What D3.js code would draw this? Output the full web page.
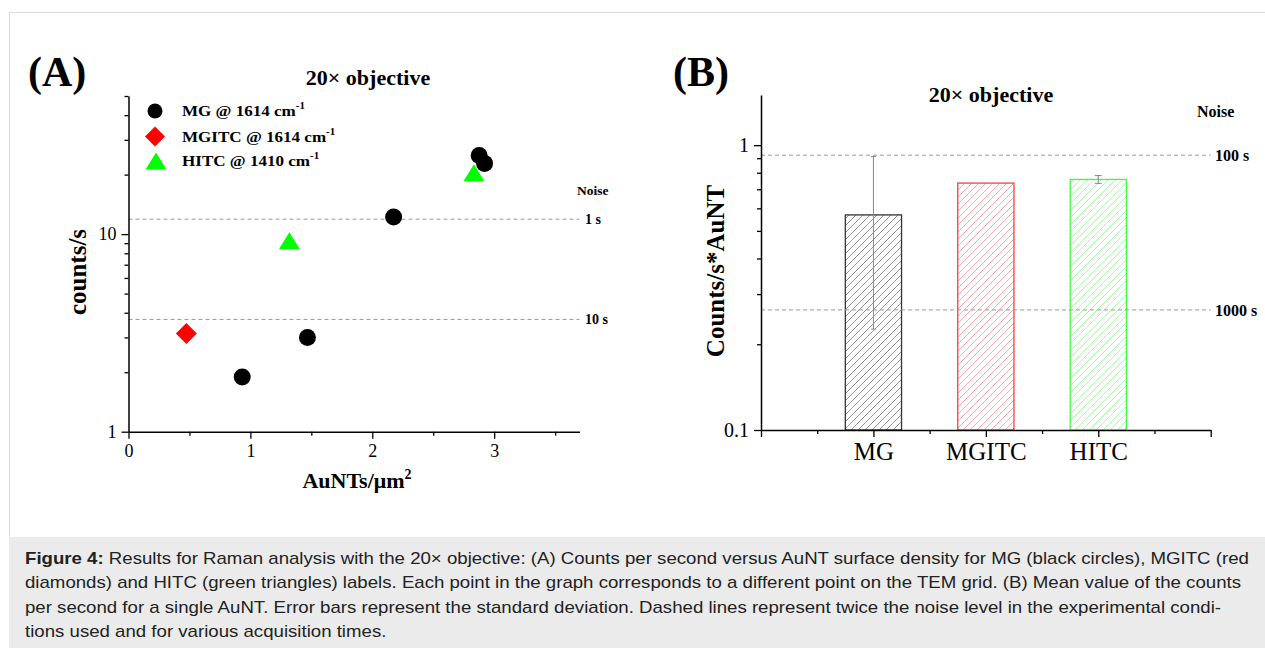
<!DOCTYPE html>
<html><head><meta charset="utf-8">
<script src="https://cdn.jsdelivr.net/npm/d3@7"></script>
<style>body{margin:0;background:#fff}svg{display:block}</style>
</head><body><svg id="c" width="1265" height="648"></svg>
<script>
// ---- Panel A data ----
const mgX = [0.933, 1.468, 2.175, 2.877, 2.921];
const mgY = [1.89, 3.0, 12.2, 25.0, 22.8];
const mgitcX = [0.475];
const mgitcY = [3.14];
const hitcX = [1.32, 2.834];
const hitcY = [9.19, 20.3];
const noiseA = [11.9, 3.70];
const noiseALabels = ["1 s", "10 s"];
const xTicksA = [0, 1, 2, 3];
const xMinorA = [0.5, 1.5, 2.5, 3.5];
const yTicksA = [1, 10];
const yMinorA = [2,3,4,5,6,7,8,9,20,30,40,50];
const legendA = ["MG @ 1614 cm", "MGITC @ 1614 cm", "HITC @ 1410 cm"];
const legendSup = ["-1", "-1", "-1"];

// ---- Panel B data ----
const categories = ["MG", "MGITC", "HITC"];
const catPos = [2, 4, 6];
const means = [0.569, 0.736, 0.758];
const sds = [0.343, 0, 0.024];
const noiseB = [0.922, 0.264];
const noiseBLabels = ["100 s", "1000 s"];
const yTicksB = [0.1, 1];
const yMinorB = [0.2,0.3,0.4,0.5,0.6,0.7,0.8,0.9];
const xMajorB = [0, 2, 4, 6, 8];
const xMinorB = [1, 3, 5, 7];

const caption = [
  " Results for Raman analysis with the 20× objective: (A) Counts per second versus AuNT surface density for MG (black circles), MGITC (red",
  "diamonds) and HITC (green triangles) labels. Each point in the graph corresponds to a different point on the TEM grid. (B) Mean value of the counts",
  "per second for a single AuNT. Error bars represent the standard deviation. Dashed lines represent twice the noise level in the experimental condi-",
  "tions used and for various acquisition times."
];

const svg = d3.select("#c");
const SERIF = "'Liberation Serif','Times New Roman',serif";
const SANS = "'Liberation Sans',Arial,sans-serif";

// frame
svg.append("rect").attr("x",9).attr("y",537).attr("width",1256).attr("height",111).attr("fill","#ebebeb");
svg.append("line").attr("x1",9).attr("x2",1265).attr("y1",12.5).attr("y2",12.5).attr("stroke","#dcdcdc");
svg.append("line").attr("x1",9.5).attr("x2",9.5).attr("y1",12).attr("y2",537).attr("stroke","#dcdcdc");

// caption
const cap = svg.append("text").attr("transform","translate(25,0) scale(1.165,1)")
  .attr("font-family",SANS).attr("font-size",16).attr("fill","#222");
caption.forEach((t,i)=>{
  const tx = cap.append("tspan").attr("x",0).attr("y",564 + i*24.5);
  if(i===0){ tx.append("tspan").attr("font-weight","bold").text("Figure 4:"); tx.append("tspan").text(t); }
  else tx.text(t);
});

// ===== Panel A =====
const xA = d3.scaleLinear().domain([0,3.7]).range([128.5,579.5]);
const yA = d3.scaleLog().domain([1,50]).range([431.7,96]);

function styleAxis(g, fs){
  g.selectAll("path.domain").attr("stroke","#000").attr("stroke-width",1.5);
  g.selectAll(".tick line").attr("stroke","#000").attr("stroke-width",1.3);
  g.selectAll(".tick text").attr("font-family",SERIF).attr("font-size",fs).attr("fill","#000");
  g.attr("font-family",null).attr("font-size",null);
}

// dashed noise lines
const gA = svg.append("g");
gA.selectAll("line.noise").data(noiseA).join("line")
  .attr("x1",xA(0)).attr("x2",xA(3.7)).attr("y1",d=>yA(d)).attr("y2",d=>yA(d))
  .attr("stroke","#999").attr("stroke-dasharray","4,3");
gA.selectAll("text.nl").data(noiseA).join("text")
  .attr("x",585).attr("y",d=>yA(d)+5).attr("font-family",SERIF).attr("font-weight","bold").attr("font-size",14)
  .text((d,i)=>noiseALabels[i]);
gA.append("text").attr("x",577).attr("y",195).attr("font-family",SERIF).attr("font-weight","bold").attr("font-size",13.5).text("Noise");

// axes A
gA.append("g").attr("transform",`translate(${xA(0)},0)`)
  .call(d3.axisLeft(yA).tickValues(yMinorA).tickSize(4).tickFormat("").tickSizeOuter(0))
  .call(g=>{g.select(".domain").remove(); styleAxis(g,18);});
gA.append("g").attr("transform",`translate(${xA(0)},0)`)
  .call(d3.axisLeft(yA).tickValues(yTicksA).tickSize(7).tickPadding(5).tickFormat(d3.format("d")).tickSizeOuter(0))
  .call(g=>styleAxis(g,18));
gA.append("g").attr("transform",`translate(0,${yA(1)})`)
  .call(d3.axisBottom(xA).tickValues(xMinorA).tickSize(4).tickFormat("").tickSizeOuter(0))
  .call(g=>{g.select(".domain").remove(); styleAxis(g,18);});
gA.append("g").attr("transform",`translate(0,${yA(1)})`)
  .call(d3.axisBottom(xA).tickValues(xTicksA).tickSize(7).tickPadding(6).tickFormat(d3.format("d")).tickSizeOuter(0))
  .call(g=>styleAxis(g,18));

// labels A
svg.append("text").attr("x",28).attr("y",86).attr("font-family",SERIF).attr("font-weight","bold").attr("font-size",42).text("(A)");
svg.append("text").attr("x",368).attr("y",85).attr("text-anchor","middle").attr("font-family",SERIF).attr("font-weight","bold").attr("font-size",22).text("20× objective");
svg.append("text").attr("transform","translate(86,272) rotate(-90)").attr("text-anchor","middle")
  .attr("font-family",SERIF).attr("font-weight","bold").attr("font-size",25).text("counts/s");
const xl = svg.append("text").attr("x",357).attr("y",488).attr("text-anchor","middle").attr("font-family",SERIF).attr("font-weight","bold").attr("font-size",22);
xl.append("tspan").text("AuNTs/μm");
xl.append("tspan").attr("font-size",14).attr("dy",-9).text("2");

// markers
const tri = "M0,-9L10.5,8L-10.5,8Z";
const dia = "M0,-10.5L10.5,0L0,10.5L-10.5,0Z";
gA.selectAll("circle.mg").data(mgX).join("circle")
  .attr("cx",d=>xA(d)).attr("cy",(d,i)=>yA(mgY[i])).attr("r",8.5).attr("fill","#000");
gA.selectAll("path.mgitc").data(mgitcX).join("path")
  .attr("d",dia).attr("transform",(d,i)=>`translate(${xA(d)},${yA(mgitcY[i])})`).attr("fill","#ff0000");
gA.selectAll("path.hitc").data(hitcX).join("path")
  .attr("d",tri).attr("transform",(d,i)=>`translate(${xA(d)},${yA(hitcY[i])})`).attr("fill","#00ff00");

// legend
const legY = [111, 136.5, 161];
const lg = svg.append("g");
lg.append("circle").attr("cx",155).attr("cy",legY[0]).attr("r",7.5).attr("fill","#000");
lg.append("path").attr("d","M0,-10L10,0L0,10L-10,0Z").attr("transform",`translate(155,${legY[1]})`).attr("fill","#ff0000");
lg.append("path").attr("d",tri).attr("transform",`translate(156,${legY[2]+0.5})`).attr("fill","#00ff00");
legendA.forEach((t,i)=>{
  const tx = lg.append("text").attr("transform",`translate(182,${legY[i]+5}) scale(1.1,1)`)
    .attr("font-family",SERIF).attr("font-weight","bold").attr("font-size",15.5);
  tx.append("tspan").text(t);
  tx.append("tspan").attr("font-size",10).attr("dy",-7).text(legendSup[i]);
});

// ===== Panel B =====
const xB = d3.scaleLinear().domain([0,8]).range([761,1210.7]);
const yB = d3.scaleLog().domain([0.1,1.5]).range([430,95]);
const defs = svg.append("defs");
const barStroke = ["#333333","#ff3b3b","#3cff3c"];
const hatch = ["#8a8a8a","#ff9c9c","#9cff9c"];
hatch.forEach((c,i)=>{
  const p = defs.append("pattern").attr("id","h"+i).attr("patternUnits","userSpaceOnUse").attr("width",7).attr("height",7);
  p.append("path").attr("d","M0,7L7,0M-1,1L1,-1M6,8L8,6").attr("stroke",c).attr("stroke-width",0.9);
});
const gB = svg.append("g");
gB.selectAll("rect.bar").data(means).join("rect")
  .attr("x",(d,i)=>xB(catPos[i]-0.5)).attr("width",(d,i)=>xB(catPos[i]+0.5)-xB(catPos[i]-0.5))
  .attr("y",d=>yB(d)).attr("height",d=>yB(0.1)-yB(d))
  .attr("fill",(d,i)=>`url(#h${i})`).attr("stroke",(d,i)=>barStroke[i]).attr("stroke-width",1.3);

// error bars
means.forEach((m,i)=>{
  if(!sds[i]) return;
  const cx = xB(catPos[i]);
  const y1 = yB(m+sds[i]), y0 = yB(m-sds[i]);
  const w = i===0?2.5:3.5;
  gB.append("line").attr("x1",cx).attr("x2",cx).attr("y1",y1).attr("y2",y0).attr("stroke","#888").attr("stroke-width",1);
  [y0,y1].forEach(y=>gB.append("line").attr("x1",cx-w).attr("x2",cx+w).attr("y1",y).attr("y2",y).attr("stroke","#888").attr("stroke-width",1));
});

gB.selectAll("line.noise").data(noiseB).join("line")
  .attr("x1",xB(0)).attr("x2",xB(8)).attr("y1",d=>yB(d)).attr("y2",d=>yB(d))
  .attr("stroke","#999").attr("stroke-dasharray","4,3");
gB.selectAll("text.nl").data(noiseB).join("text")
  .attr("x",1215).attr("y",d=>yB(d)+6).attr("font-family",SERIF).attr("font-weight","bold").attr("font-size",16)
  .text((d,i)=>noiseBLabels[i]);
gB.append("text").attr("x",1197).attr("y",117).attr("font-family",SERIF).attr("font-weight","bold").attr("font-size",16).text("Noise");

gB.append("g").attr("transform",`translate(${xB(0)},0)`)
  .call(d3.axisLeft(yB).tickValues(yMinorB).tickSize(4).tickFormat("").tickSizeOuter(0))
  .call(g=>{g.select(".domain").remove(); styleAxis(g,20);});
gB.append("g").attr("transform",`translate(${xB(0)},0)`)
  .call(d3.axisLeft(yB).tickValues(yTicksB).tickSize(7).tickPadding(5).tickFormat(d=>d===1?"1":"0.1").tickSizeOuter(0))
  .call(g=>styleAxis(g,20));
gB.append("g").attr("transform",`translate(0,${yB(0.1)})`)
  .call(d3.axisBottom(xB).tickValues(xMinorB).tickSize(4).tickFormat("").tickSizeOuter(0))
  .call(g=>{g.select(".domain").remove(); styleAxis(g,25);});
gB.append("g").attr("transform",`translate(0,${yB(0.1)})`)
  .call(d3.axisBottom(xB).tickValues(xMajorB).tickSize(7).tickPadding(5)
    .tickFormat(d=>{const k=catPos.indexOf(d); return k>=0?categories[k]:"";}).tickSizeOuter(0))
  .call(g=>styleAxis(g,25));

svg.append("text").attr("x",673).attr("y",86).attr("font-family",SERIF).attr("font-weight","bold").attr("font-size",42).text("(B)");
svg.append("text").attr("x",991).attr("y",102).attr("text-anchor","middle").attr("font-family",SERIF).attr("font-weight","bold").attr("font-size",22).text("20× objective");
svg.append("text").attr("transform","translate(724,271) rotate(-90)").attr("text-anchor","middle")
  .attr("font-family",SERIF).attr("font-weight","bold").attr("font-size",25).text("Counts/s*AuNT");
</script></body></html>
